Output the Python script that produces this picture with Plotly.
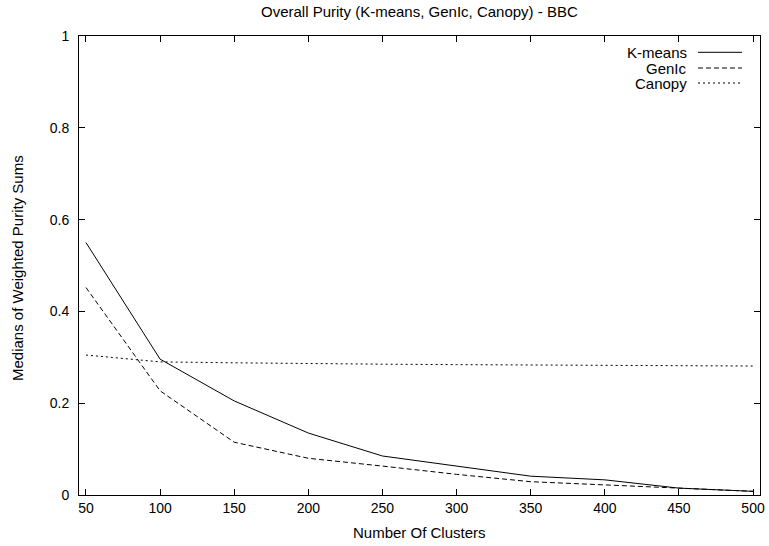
import plotly.graph_objects as go

clusters = [50, 100, 150, 200, 250, 300, 350, 400, 450, 500]
kmeans = [0.550, 0.296, 0.205, 0.135, 0.085, 0.063, 0.041, 0.033, 0.015, 0.008]
genic = [0.452, 0.227, 0.115, 0.080, 0.063, 0.045, 0.029, 0.022, 0.015, 0.008]
canopy = [0.305, 0.290, 0.288, 0.286, 0.285, 0.284, 0.283, 0.282, 0.282, 0.281]
series_names = ["K-means", "GenIc", "Canopy"]
x_ticks = [50, 100, 150, 200, 250, 300, 350, 400, 450, 500]
y_ticks = [0, 0.2, 0.4, 0.6, 0.8, 1]
y_tick_labels = ["0", "0.2", "0.4", "0.6", "0.8", "1"]

FONT = "Liberation Sans, Arial, sans-serif"
dashes = ["solid", "5px,3px", "2px,3px"]

W, H = 769, 546
L, R, T, B = 79, 760, 36, 495
def px(x):
    return (x - L) / (R - L)
def py(y):
    return 1 - (y - T) / (B - T)

fig = go.Figure()
for name, vals, dash in zip(series_names, [kmeans, genic, canopy], dashes):
    fig.add_trace(go.Scatter(x=clusters, y=vals, mode="lines", name=name,
                             line=dict(color="black", width=1, dash=dash),
                             showlegend=False, hoverinfo="skip"))

# legend imitation (text right-aligned, line sample to the right)
row_y = [52.3, 68, 83]
for name, dash, ry in zip(series_names, dashes, row_y):
    fig.add_annotation(xref="paper", yref="paper", x=px(689), y=py(ry),
                       text=name, showarrow=False, xanchor="right", yanchor="middle",
                       font=dict(family=FONT, size=15, color="black"))
    fig.add_shape(type="line", xref="paper", yref="paper",
                  x0=px(698), x1=px(742), y0=py(ry), y1=py(ry),
                  line=dict(color="black", width=1, dash=dash))

# titles
fig.add_annotation(xref="paper", yref="paper", x=0.5, y=py(12),
                   text="Overall Purity (K-means, GenIc, Canopy) - BBC", showarrow=False,
                   xanchor="center", yanchor="middle", font=dict(family=FONT, size=15, color="black"))
fig.add_annotation(xref="paper", yref="paper", x=0.5, y=py(532),
                   text="Number Of Clusters", showarrow=False,
                   xanchor="center", yanchor="middle", font=dict(family=FONT, size=15, color="black"))
fig.add_annotation(xref="paper", yref="paper", x=px(17), y=py(268),
                   text="Medians of Weighted Purity Sums", showarrow=False, textangle=-90,
                   xanchor="center", yanchor="middle", font=dict(family=FONT, size=15, color="black"))

axis_common = dict(showline=True, linecolor="black", linewidth=1, mirror="ticks",
                   ticks="inside", ticklen=6, tickcolor="black", showgrid=False,
                   zeroline=False, automargin=False,
                   tickfont=dict(family=FONT, size=14, color="black"))

fig.update_layout(
    width=W, height=H,
    margin=dict(l=L, r=W - R, t=T, b=H - B),
    paper_bgcolor="white", plot_bgcolor="white",
    font=dict(family=FONT, size=14, color="black"),
    xaxis=dict(range=[45.3, 504.7], tickvals=x_ticks, **axis_common),
    yaxis=dict(range=[0, 1], tickvals=y_ticks, ticktext=y_tick_labels,
               ticklabelstandoff=6, **axis_common),
    hovermode=False,
)

fig.write_html("out.html", config={"displayModeBar": False},
               post_script="document.body.style.margin='0';document.body.style.padding='0';")
